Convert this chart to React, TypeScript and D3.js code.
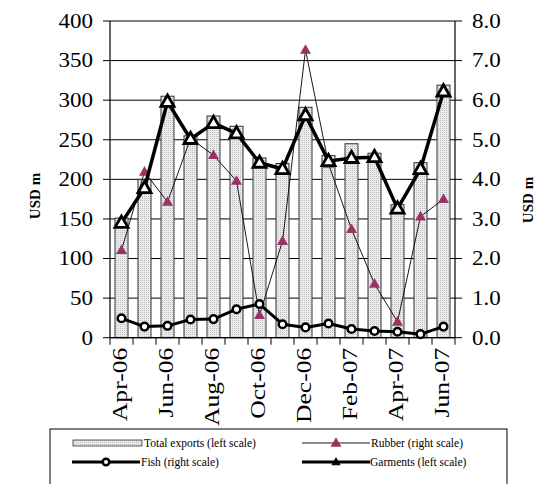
import * as d3 from 'd3';

const months = [
  'Apr-06', 'May-06', 'Jun-06', 'Jul-06', 'Aug-06', 'Sep-06', 'Oct-06', 'Nov-06',
  'Dec-06', 'Jan-07', 'Feb-07', 'Mar-07', 'Apr-07', 'May-07', 'Jun-07',
];
const totalExports = [151, 200, 305, 255, 280, 267, 227, 220, 291, 230, 245, 233, 168, 221, 319];
const garments = [145, 189, 298, 251, 271, 258, 221, 213, 281, 223, 227, 228, 163, 213, 311];
const rubber = [2.21, 4.19, 3.43, 5.03, 4.61, 3.96, 0.57, 2.44, 7.27, 4.39, 2.74, 1.36, 0.4, 3.06, 3.5];
const fish = [0.49, 0.28, 0.3, 0.46, 0.47, 0.72, 0.85, 0.34, 0.26, 0.36, 0.22, 0.17, 0.15, 0.09, 0.28];
const leftTicks = [0, 50, 100, 150, 200, 250, 300, 350, 400];
const rightTicks = [0, 1, 2, 3, 4, 5, 6, 7, 8];

const W = 537;
const H = 484;
const plot = { left: 110, right: 455, top: 21, bottom: 337.7 };
const serif = 'Liberation Serif, Times New Roman, Times, serif';
const rubberColor = '#993366';

function tri(cx: number, cy: number, s: number) {
  const h = s * 0.87;
  return `M${cx},${cy - h * 0.6}L${cx + s / 2},${cy + h * 0.4}L${cx - s / 2},${cy + h * 0.4}Z`;
}

export default function App() {
  const x = d3.scaleBand<string>().domain(months).range([plot.left, plot.right]);
  const yL = d3.scaleLinear().domain([0, 400]).range([plot.bottom, plot.top]);
  const yR = d3.scaleLinear().domain([0, 8]).range([plot.bottom, plot.top]);
  const cx = (i: number) => (x(months[i]) ?? 0) + x.bandwidth() / 2;
  const barW = 13;

  const garmentsLine = d3.line<number>().x((_, i) => cx(i)).y((d) => yL(d))(garments) ?? '';
  const rubberLine = d3.line<number>().x((_, i) => cx(i)).y((d) => yR(d))(rubber) ?? '';
  const fishLine = d3.line<number>().x((_, i) => cx(i)).y((d) => yR(d))(fish) ?? '';

  const boundaries = d3.range(months.length + 1).map((i) => plot.left + i * x.step());

  return (
    <svg width={W} height={H} style={{ position: 'absolute', left: 0, top: 0, fontFamily: serif }}>
      <defs>
        <pattern id="dots" width={2} height={2} patternUnits="userSpaceOnUse">
          <rect width={2} height={2} fill="#ececec" />
          <rect width={1} height={1} fill="#bdbdbd" />
        </pattern>
      </defs>
      <rect width={W} height={H} fill="#fff" />

      {/* gridlines */}
      {leftTicks.map((t) => (
        <line key={t} x1={plot.left} x2={plot.right} y1={yL(t)} y2={yL(t)} stroke="#000" strokeWidth={1} />
      ))}

      {/* bars */}
      {totalExports.map((v, i) => (
        <rect
          key={i}
          x={cx(i) - barW / 2}
          y={yL(v)}
          width={barW}
          height={plot.bottom - yL(v)}
          fill="url(#dots)"
          stroke="#333"
          strokeWidth={1}
        />
      ))}

      {/* axes */}
      <line x1={plot.left} x2={plot.left} y1={plot.top} y2={plot.bottom} stroke="#000" strokeWidth={1.2} />
      <line x1={plot.right} x2={plot.right} y1={plot.top} y2={plot.bottom} stroke="#000" strokeWidth={1.2} />
      <line x1={plot.left} x2={plot.right} y1={plot.bottom} y2={plot.bottom} stroke="#000" strokeWidth={1.2} />
      {leftTicks.map((t) => (
        <g key={t}>
          <line x1={plot.left - 7} x2={plot.left} y1={yL(t)} y2={yL(t)} stroke="#000" />
          <text
            transform={`translate(${plot.left - 17},${yL(t)}) scale(1.15,1)`}
            textAnchor="end"
            dy="0.34em"
            fontSize={20}
          >
            {t}
          </text>
        </g>
      ))}
      {rightTicks.map((t) => (
        <g key={t}>
          <line x1={plot.right} x2={plot.right + 7} y1={yR(t)} y2={yR(t)} stroke="#000" />
          <text
            transform={`translate(${plot.right + 17},${yR(t)}) scale(1.15,1)`}
            textAnchor="start"
            dy="0.34em"
            fontSize={20}
          >
            {t.toFixed(1)}
          </text>
        </g>
      ))}
      {boundaries.map((b, i) => (
        <line key={i} x1={b} x2={b} y1={plot.bottom} y2={plot.bottom + 7} stroke="#000" />
      ))}
      {months.map((m, i) =>
        i % 2 === 0 ? (
          <text
            key={m}
            transform={`translate(${cx(i) + 5},${plot.bottom + 10}) rotate(-90) scale(1.22,1)`}
            textAnchor="end"
            fontSize={21}
          >
            {m}
          </text>
        ) : null,
      )}

      {/* axis titles */}
      <text transform="translate(40,196) rotate(-90)" textAnchor="middle" fontSize={15} fontWeight="bold">
        USD m
      </text>
      <text transform="translate(533,200) rotate(-90)" textAnchor="middle" fontSize={15} fontWeight="bold">
        USD m
      </text>

      {/* rubber */}
      <path d={rubberLine} fill="none" stroke="#000" strokeWidth={0.9} />
      {rubber.map((v, i) => (
        <path key={i} d={tri(cx(i), yR(v), 11)} fill={rubberColor} />
      ))}

      {/* fish */}
      <path d={fishLine} fill="none" stroke="#000" strokeWidth={3} strokeLinejoin="round" />
      {fish.map((v, i) => (
        <circle key={i} cx={cx(i)} cy={yR(v)} r={3.8} fill="#fff" stroke="#000" strokeWidth={2.5} />
      ))}

      {/* garments */}
      <path d={garmentsLine} fill="none" stroke="#000" strokeWidth={3.5} strokeLinejoin="round" />
      {garments.map((v, i) => (
        <path key={i} d={tri(cx(i), yL(v), 13)} fill="#fff" stroke="#000" strokeWidth={2.8} strokeLinejoin="miter" />
      ))}

      {/* legend */}
      <rect x={50} y={429} width={457} height={70} fill="none" stroke="#000" strokeWidth={1} />
      <g fontSize={11.5}>
        <rect x={73} y={440} width={69} height={6} fill="url(#dots)" stroke="#333" strokeWidth={0.8} />
        <text x={144} y={447}>Total exports (left scale)</text>

        <line x1={302} x2={370} y1={443} y2={443} stroke="#000" strokeWidth={0.9} />
        <path d={tri(336, 443, 11)} fill={rubberColor} />
        <text x={371} y={447}>Rubber (right scale)</text>

        <line x1={72} x2={140} y1={462} y2={462} stroke="#000" strokeWidth={3} />
        <circle cx={106} cy={462} r={3.3} fill="#fff" stroke="#000" strokeWidth={2.5} />
        <text x={141} y={466}>Fish (right scale)</text>

        <line x1={302} x2={370} y1={462} y2={462} stroke="#000" strokeWidth={3} />
        <path d={tri(336, 462, 8)} fill="#000" stroke="#000" strokeWidth={1} />
        <text x={370} y={466}>Garments (left scale)</text>
      </g>
    </svg>
  );
}
